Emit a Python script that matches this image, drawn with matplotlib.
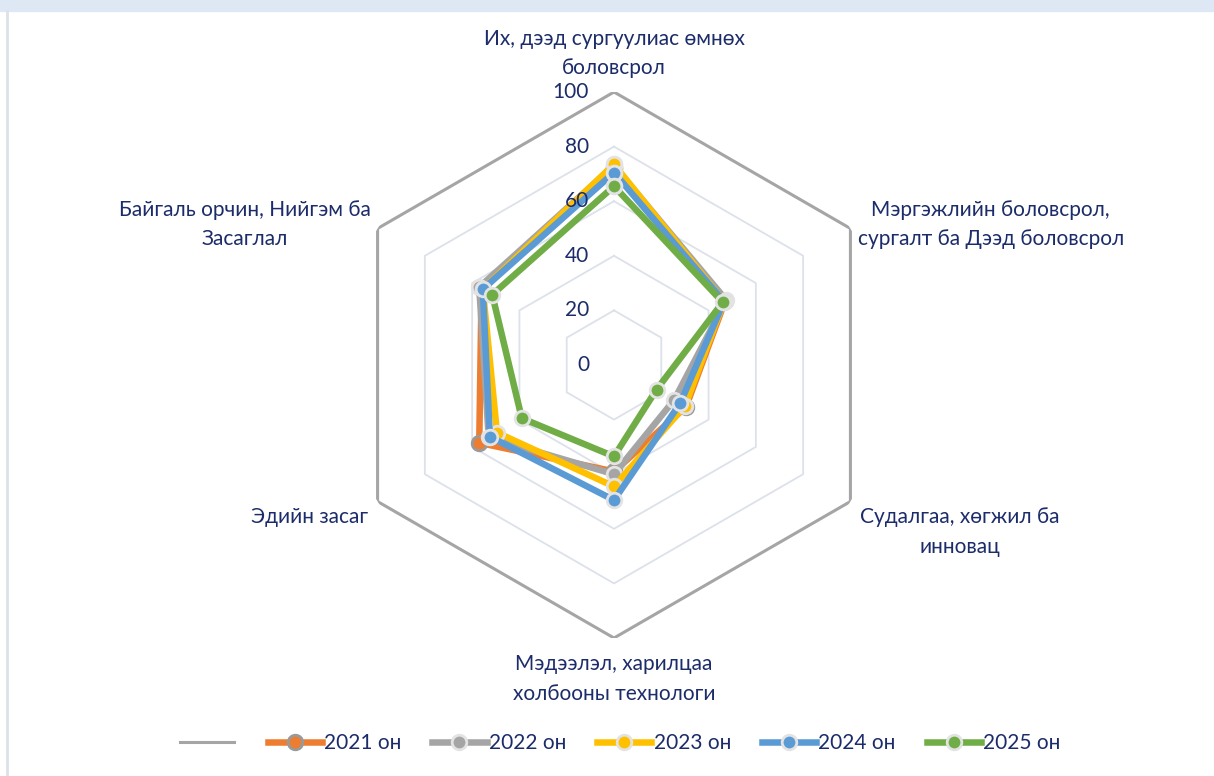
import numpy as np
import matplotlib.pyplot as plt
from matplotlib.lines import Line2D

plt.rcParams['font.family'] = ['Lato', 'DejaVu Sans']

# categories clockwise from the top
categories = [
    "Их, дээд сургуулиас өмнөх\nболовсрол",
    "Мэргэжлийн боловсрол,\nсургалт ба Дээд боловсрол",
    "Судалгаа, хөгжил ба\nинновац",
    "Мэдээлэл, харилцаа\nхолбооны технологи",
    "Эдийн засаг",
    "Байгаль орчин, Нийгэм ба\nЗасаглал",
]
years = ["2021 он", "2022 он", "2023 он", "2024 он", "2025 он"]
v2021 = [72, 47, 30.5, 39, 57, 56]
v2022 = [73, 47.5, 25.5, 40, 53, 57]
v2023 = [73.5, 46.5, 30, 44.5, 49.5, 55.5]
v2024 = [70.5, 46.5, 28, 49.5, 52.5, 55.5]
v2025 = [65.5, 46, 18, 33.5, 39, 51.5]
outer = [100, 100, 100, 100, 100, 100]
ticks = [0, 20, 40, 60, 80, 100]

colors = ['#ED7D31', '#A5A5A5', '#FFC000', '#5B9BD5', '#70AD47']
edges = ['#9A9A9A', '#E3E3E3', '#E3E3E3', '#E3E3E3', '#E3E3E3']
txt = '#1C2C6A'

W, H = 1214, 776
fig = plt.figure(figsize=(W / 100, H / 100), dpi=100)

# top band and left border
fig.patches.append(plt.Rectangle((0, 1 - 11 / H), 1, 11 / H, transform=fig.transFigure,
                                 color='#DEE8F5', zorder=0))
fig.lines.append(Line2D([6.5 / W, 6.5 / W], [0, 1 - 11 / H], transform=fig.transFigure,
                        color='#DCE1EA', lw=2))

cx, cy, R = 614, 365, 273
ax = fig.add_axes([(cx - R) / W, (H - cy - R) / H, 2 * R / W, 2 * R / H], projection='polar')
ax.set_theta_offset(np.pi / 2)
ax.set_theta_direction(-1)
ax.set_ylim(0, 100)
ax.grid(False)
ax.spines['polar'].set_visible(False)
ax.set_xticks([])
ax.set_yticks([])
ax.patch.set_alpha(0)

n = len(categories)
theta = np.arange(n) * 2 * np.pi / n
tc = np.append(theta, theta[0])

for t in ticks[1:-1]:
    ax.plot(tc, [t] * (n + 1), color='#DCE1EA', lw=1.3, zorder=1)

ax.plot(tc, outer + outer[:1], color='#A5A5A5', lw=2.2, zorder=2)

series = [v2021, v2022, v2023, v2024, v2025]
for vals, c, e in zip(series, colors, edges):
    ax.plot(tc, vals + vals[:1], color=c, lw=4.7, marker='o', ms=10.5,
            markerfacecolor=c, markeredgecolor=e, markeredgewidth=2, zorder=3)

for t in ticks:
    ax.annotate(str(t), xy=(0, t), xytext=(-25, 0), textcoords='offset pixels',
                ha='right', va='center', fontsize=15, color=txt)

# category labels
lab = [
    dict(r=105, ha='center', va='bottom'),
    dict(r=103, ha='left', va='center'),
    dict(r=104, ha='left', va='top'),
    dict(r=106, ha='center', va='top'),
    dict(r=104, ha='right', va='top'),
    dict(r=103, ha='right', va='center'),
]
for th, name, p in zip(theta, categories, lab):
    ax.text(th, p['r'], name, ha=p['ha'], va=p['va'], multialignment='center',
            fontsize=15, color=txt, linespacing=1.6)

handles = [Line2D([], [], color='#A5A5A5', lw=2.2)]
for c, e in zip(colors, edges):
    handles.append(Line2D([], [], color=c, lw=4.7, marker='o', ms=10.5,
                          markerfacecolor=c, markeredgecolor=e, markeredgewidth=2))
fig.legend(handles, [''] + years, loc='center', bbox_to_anchor=(0.511, 1 - 743 / H),
           ncol=6, frameon=False, fontsize=15, handlelength=2.6, handletextpad=0.1,
           columnspacing=1.5, labelcolor=txt)

fig.savefig('out.png', dpi=100)
